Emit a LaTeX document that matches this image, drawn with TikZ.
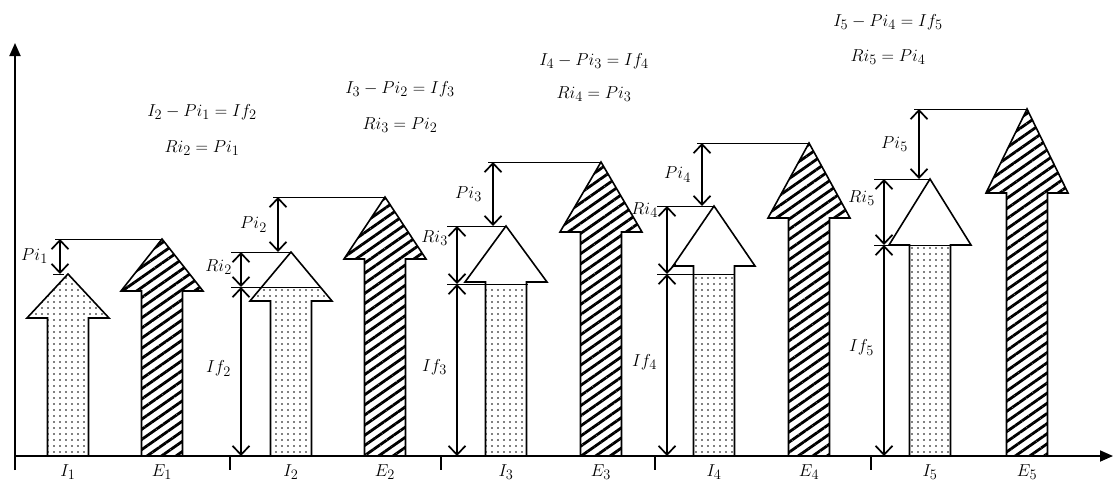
\documentclass[tikz,border=0pt]{standalone}
\usetikzlibrary{arrows.meta,patterns.meta}

\tikzset{
  eje/.style={line width=1.8pt,-{Triangle[length=13pt,width=11pt]}},
  cota/.style={line width=1.7pt,{Straight Barb[length=9pt,width=17pt]}-{Straight Barb[length=9pt,width=17pt]}},
  guia/.style={line width=0.8pt},
  borde/.style={draw,line width=1.6pt},
  rayas/.style={borde,pattern={Lines[angle=35,distance=8.3pt,line width=2.8pt]}},
  puntos/.style={pattern={Dots[radius=0.85pt,distance=6pt]}},
  etiq/.style={inner sep=0pt}
}
% flecha gruesa: estilo, x del centro, base de la punta, vertice
\newcommand{\flecha}[4]{%
  \path[#1] (#2-20.5,456) -- (#2-20.5,#3) -- (#2-41,#3) -- (#2,#4)
    -- (#2+41,#3) -- (#2+20.5,#3) -- (#2+20.5,456) -- cycle;}

\begin{document}
\begin{tikzpicture}[x=1pt,y=-1pt,font=\fontsize{19}{23}\selectfont]
  \useasboundingbox (0,0) rectangle (1115,488);
  % Ejes
  \coordinate (ybot) at (15,470);
  \coordinate (ytop) at (15,43);
  \coordinate (xini) at (15,456);
  \coordinate (xfin) at (1113,456);
  \draw[eje] (ybot) -- (ytop);
  \draw[eje] (xini) -- (xfin);
  \foreach \x in {230,441,655,871}
    \draw[line width=1.4pt] (\x,456) -- (\x,470);

  % Periodo 1
  \flecha{puntos,borde}{68}{318}{274}
  \flecha{rayas}{162}{291}{239}
  \coordinate (topI1) at (68,274);
  \coordinate (topE1) at (162,239);
  \coordinate (pa1) at (60,239);
  \coordinate (pb1) at (60,274);
  \draw[guia] ([xshift=-5pt]pa1) -- (topE1);
  \draw[guia] ([xshift=-7pt]pb1) -- ([xshift=4pt]pb1);
  \draw[cota] (pa1) -- (pb1);
  \node[etiq,anchor=east] (pi1) at (48,256) {$Pi_1$};
  \node (lI1) at (68,472) {$I_1$};
  \node (lE1) at (162,472) {$E_1$};

  % Periodos 2 a 5
  \foreach \n/\xI/\xE/\tI/\bI/\tE/\bE/\lv/\xR/\xP/\yR/\xd in {
      2/291/385/252/301/197/259/287/241/278/267/320,
      3/506/601/226/282/162/232/284/457/493/238/528,
      4/714/809/206/266/143/218/274/667/702/210/735,
      5/930/1027/179/245/109/193/245/884/919/198/971}{
    % Flecha I (punteada bajo If)
    \begin{scope}
      \clip (0,\lv) rectangle (1115,456);
      \flecha{puntos}{\xI}{\bI}{\tI}
    \end{scope}
    \flecha{borde}{\xI}{\bI}{\tI}
    % Flecha E
    \flecha{rayas}{\xE}{\bE}{\tE}
    % Cotas
    \coordinate (topE\n) at (\xE,\tE);
    \coordinate (topI\n) at (\xI,\tI);
    \coordinate (nivel\n) at (\xd,\lv);
    \coordinate (pa\n) at (\xP,\tE);
    \coordinate (pb\n) at (\xP,\tI);
    \coordinate (ra\n) at (\xR,\tI);
    \coordinate (rb\n) at (\xR,\lv);
    \coordinate (rc\n) at (\xR,456);
    \draw[guia] ([xshift=-5pt]pa\n) -- (topE\n);
    \draw[guia] ([xshift=-10pt]ra\n) -- (topI\n);
    \draw[guia] ([xshift=-10pt]rb\n) -- (nivel\n);
    \draw[cota] (pa\n) -- (pb\n);
    \draw[cota] (ra\n) -- (rb\n);
    \draw[cota] (rb\n) -- (rc\n);
    \node[etiq,anchor=east] (pi\n) at (\xP-11,{(\tE+\tI)/2}) {$Pi_\n$};
    \node[etiq,anchor=east] (ri\n) at (\xR-9,\yR) {$Ri_\n$};
    \node[etiq,anchor=east] (if\n) at (\xR-10,{(\lv+456)/2-3}) {$If_\n$};
    \node (lI\n) at (\xI,472) {$I_\n$};
    \node (lE\n) at (\xE,472) {$E_\n$};
  }

  % Relaciones
  \node (eq2a) at (202,112) {$I_2 - Pi_1 = If_2$};
  \node (eq2b) at (202,148) {$Ri_2 = Pi_1$};
  \node (eq3a) at (400,89) {$I_3 - Pi_2 = If_3$};
  \node (eq3b) at (400,125) {$Ri_3 = Pi_2$};
  \node (eq4a) at (594,61) {$I_4 - Pi_3 = If_4$};
  \node (eq4b) at (594,94) {$Ri_4 = Pi_3$};
  \node (eq5a) at (888,22) {$I_5 - Pi_4 = If_5$};
  \node (eq5b) at (888,57) {$Ri_5 = Pi_4$};
\end{tikzpicture}
\end{document}
